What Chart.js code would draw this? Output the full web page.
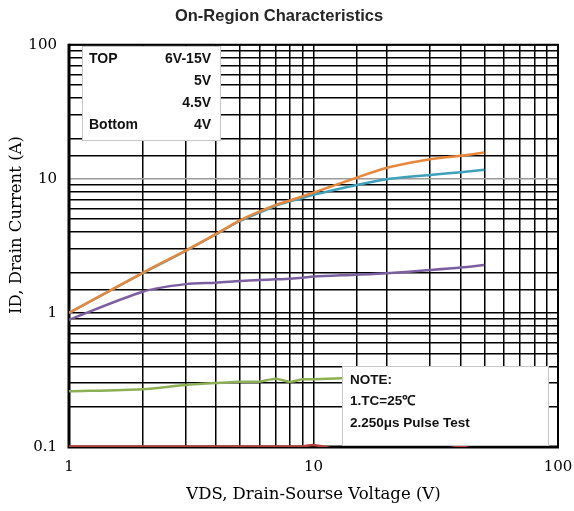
<!DOCTYPE html>
<html>
<head>
<meta charset="utf-8">
<script src="https://cdn.jsdelivr.net/npm/chart.js@4/dist/chart.umd.min.js"></script>
<style>
  html, body { margin: 0; padding: 0; background: #fff; }
  #wrap { width: 574px; height: 511px; }
</style>
</head>
<body>
<div id="wrap"><canvas id="ivChart" width="574" height="511"></canvas></div>
<script>
// --- data ---
const vds = [1, 2, 3, 4, 5, 6, 7, 8, 9, 10, 15, 20, 30, 40, 50];
const id6to15V = [1.0, 1.99, 2.92, 3.89, 4.9, 5.7, 6.4, 6.9, 7.4, 7.9, 10.2, 12.1, 14.0, 14.9, 15.7];
const id5V     = [1.0, 1.98, 2.9, 3.87, 4.85, 5.6, 6.3, 6.8, 7.2, 7.6, 9.0, 9.95, 10.7, 11.2, 11.7];
const id45V    = [0.89, 1.44, 1.64, 1.68, 1.73, 1.76, 1.78, 1.8, 1.83, 1.87, 1.93, 1.98, 2.09, 2.18, 2.28];
const id4V     = [0.26, 0.27, 0.29, 0.30, 0.307, 0.307, 0.323, 0.306, 0.32, 0.32, 0.33, 0.335, 0.34, 0.345, 0.35];
const idLow    = [0.101, 0.101, 0.101, 0.101, 0.101, 0.101, 0.101, 0.101, 0.101, 0.1035, 0.09, 0.09, 0.09, 0.101, 0.09];

const xTickLabels = [1, 10, 100];
const yTickLabels = [0.1, 1, 10, 100];

const legendRows = [["TOP", "6V-15V"], ["", "5V"], ["", "4.5V"], ["Bottom", "4V"]];
const noteLines = ["NOTE:", "1.TC=25\u2103", "2.250\u03bcs Pulse Test"];
const yTitle = "ID, Drain Current (A)";

const toPoints = ys => vds.map((x, i) => ({ x: x, y: ys[i] }));

const series = [
    { data: id6to15V, color: "#E8873A" },
    { data: id5V,     color: "#3FA0BA" },
    { data: id45V,    color: "#7B5FA0" },
    { data: id4V,     color: "#8DB055" },
    { data: idLow,    color: "#B8403C" }
];

const isLabelTick = (list, v) => list.some(t => Math.abs(t - v) < 1e-9);

const serifFont = "'DejaVu Serif', serif";

// plot frame under the curves, text boxes over them
const boxesPlugin = {
    id: "boxes",
    beforeDatasetsDraw(chart) {
        const { ctx, chartArea: a } = chart;
        ctx.save();
        ctx.strokeStyle = "#000";
        ctx.lineWidth = 2;
        ctx.beginPath();
        ctx.moveTo(a.left, a.top);
        ctx.lineTo(a.right, a.top);
        ctx.lineTo(a.right, a.bottom);
        ctx.stroke();
        ctx.lineWidth = 3;
        ctx.beginPath();
        ctx.moveTo(a.left, a.top - 1);
        ctx.lineTo(a.left, a.bottom);
        ctx.lineTo(a.right + 1, a.bottom);
        ctx.stroke();

        // y axis title, sitting a little above the middle like the original
        ctx.translate(17, 225);
        ctx.rotate(-Math.PI / 2);
        ctx.fillStyle = "#000";
        ctx.font = "16.5px " + serifFont;
        ctx.textAlign = "center";
        ctx.textBaseline = "middle";
        ctx.fillText(yTitle, 0, 0);
        ctx.restore();
    },
    afterDatasetsDraw(chart) {
        const ctx = chart.ctx;
        ctx.save();

        // legend box
        ctx.fillStyle = "#fff";
        ctx.strokeStyle = "#c8c8c8";
        ctx.lineWidth = 1;
        ctx.fillRect(82, 46, 138, 94);
        ctx.strokeRect(82.5, 46.5, 138, 94);
        ctx.fillStyle = "#111";
        ctx.font = "bold 14px 'Liberation Sans', Arial, sans-serif";
        ctx.textBaseline = "middle";
        legendRows.forEach((row, i) => {
            const y = 59 + i * 22;
            ctx.textAlign = "left";
            ctx.fillText(row[0], 89, y);
            ctx.textAlign = "right";
            ctx.fillText(row[1], 211, y);
        });

        // note box
        ctx.fillStyle = "#fff";
        ctx.fillRect(342, 366, 206, 79);
        ctx.strokeStyle = "#c8c8c8";
        ctx.strokeRect(342.5, 366.5, 206, 79);
        ctx.fillStyle = "#111";
        ctx.font = "bold 13.5px 'Liberation Sans', Arial, sans-serif";
        ctx.textAlign = "left";
        noteLines.forEach((t, i) => ctx.fillText(t, 350, 380 + i * 21.5));

        ctx.restore();
    }
};

new Chart(document.getElementById("ivChart"), {
    type: "line",
    data: {
        datasets: series.map(s => ({
            data: toPoints(s.data),
            borderColor: s.color,
            backgroundColor: s.color,
            borderWidth: 2.5,
            pointRadius: 0,
            tension: 0.25,
            fill: false
        }))
    },
    options: {
        responsive: false,
        animation: false,
        layout: { padding: { left: 0, right: 16, top: 0, bottom: 0 } },
        plugins: {
            legend: { display: false },
            tooltip: { enabled: false },
            title: {
                display: true,
                text: "On-Region Characteristics",
                color: "#262626",
                font: { family: "'Liberation Sans', Arial, sans-serif", size: 16.5, weight: "bold" },
                padding: { top: 7, bottom: 18 }
            }
        },
        scales: {
            x: {
                type: "logarithmic",
                min: 1,
                max: 100,
                afterFit: scale => {
                    scale.height = 64;
                    scale.paddingLeft = 0;
                    scale.paddingRight = 0;
                },
                border: { display: false },
                grid: {
                    drawTicks: false,
                    lineWidth: 1.5,
                    color: "#000"
                },
                ticks: {
                    autoSkip: false,
                    maxRotation: 0,
                    padding: 11,
                    color: "#000",
                    font: { family: serifFont, size: 15 },
                    callback: v => isLabelTick(xTickLabels, v) ? String(v) : ""
                },
                title: {
                    display: true,
                    text: "VDS, Drain-Sourse Voltage (V)",
                    color: "#000",
                    font: { family: serifFont, size: 16.5 },
                    padding: { bottom: 6 }
                }
            },
            y: {
                type: "logarithmic",
                min: 0.1,
                max: 100,
                afterFit: scale => {
                    scale.width = 69;
                    scale.paddingTop = 0;
                    scale.paddingBottom = 0;
                },
                border: { display: false },
                grid: {
                    drawTicks: false,
                    lineWidth: 1.5,
                    color: c => (c.tick && Math.abs(c.tick.value - 10) < 1e-9) ? "#9a9a9a" : "#000"
                },
                ticks: {
                    autoSkip: false,
                    padding: 12,
                    color: "#000",
                    font: { family: serifFont, size: 15 },
                    callback: v => isLabelTick(yTickLabels, v) ? String(v) : ""
                }
            }
        }
    },
    plugins: [boxesPlugin]
});
</script>
</body>
</html>
